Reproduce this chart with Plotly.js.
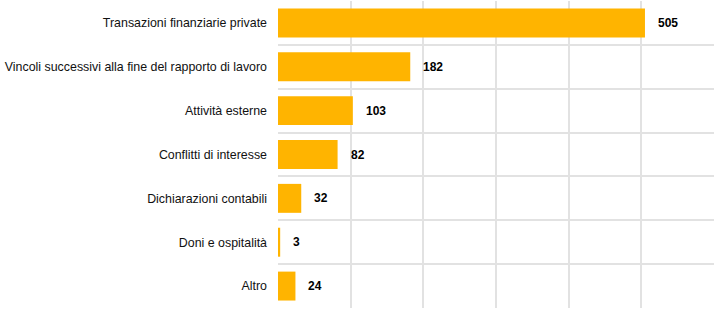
<!DOCTYPE html>
<html>
<head>
<meta charset="utf-8">
<script src="https://cdn.plot.ly/plotly-3.0.1.min.js"></script>
<style>
  html, body { margin: 0; padding: 0; background: #ffffff; }
  #chart { width: 727px; height: 310px; }
</style>
</head>
<body>
<div id="chart"></div>
<script>
// Casi per categoria
const categories = [
  "Transazioni finanziarie private",
  "Vincoli successivi alla fine del rapporto di lavoro",
  "Attività esterne",
  "Conflitti di interesse",
  "Dichiarazioni contabili",
  "Doni e ospitalità",
  "Altro"
];
const counts = [505, 182, 103, 82, 32, 3, 24];

const barColor = "#FFB400";
const gridColor = "#e2e2e2";

const trace = {
  type: "bar",
  orientation: "h",
  x: counts,
  y: categories,
  marker: { color: barColor },
  hoverinfo: "x+y"
};

// value labels just past the end of each bar
const annotations = counts.map((v, i) => ({
  x: v,
  y: categories[i],
  xref: "x",
  yref: "y",
  text: "<b>" + v + "</b>",
  showarrow: false,
  xanchor: "left",
  xshift: 11,
  font: { family: "Liberation Sans, Arial, sans-serif", size: 12, color: "#000000" }
}));

const layout = {
  width: 727,
  height: 310,
  margin: { l: 278, r: 13, t: 1, b: 2, pad: 0 },
  paper_bgcolor: "#ffffff",
  plot_bgcolor: "#ffffff",
  showlegend: false,
  bargap: 0.34,
  font: { family: "Liberation Sans, Arial, sans-serif", size: 12.4, color: "#111111" },
  xaxis: {
    range: [0, 600],
    dtick: 100,
    showgrid: true,
    gridcolor: gridColor,
    gridwidth: 2,
    showticklabels: false,
    zeroline: false,
    showline: false,
    ticks: ""
  },
  yaxis: {
    type: "category",
    autorange: "reversed",
    tickson: "boundaries",
    showgrid: true,
    gridcolor: gridColor,
    gridwidth: 2,
    ticks: "",
    ticklabelstandoff: 10,
    showline: false,
    zeroline: false
  },
  annotations: annotations
};

Plotly.newPlot("chart", [trace], layout, { displayModeBar: false, staticPlot: true });
</script>
</body>
</html>
